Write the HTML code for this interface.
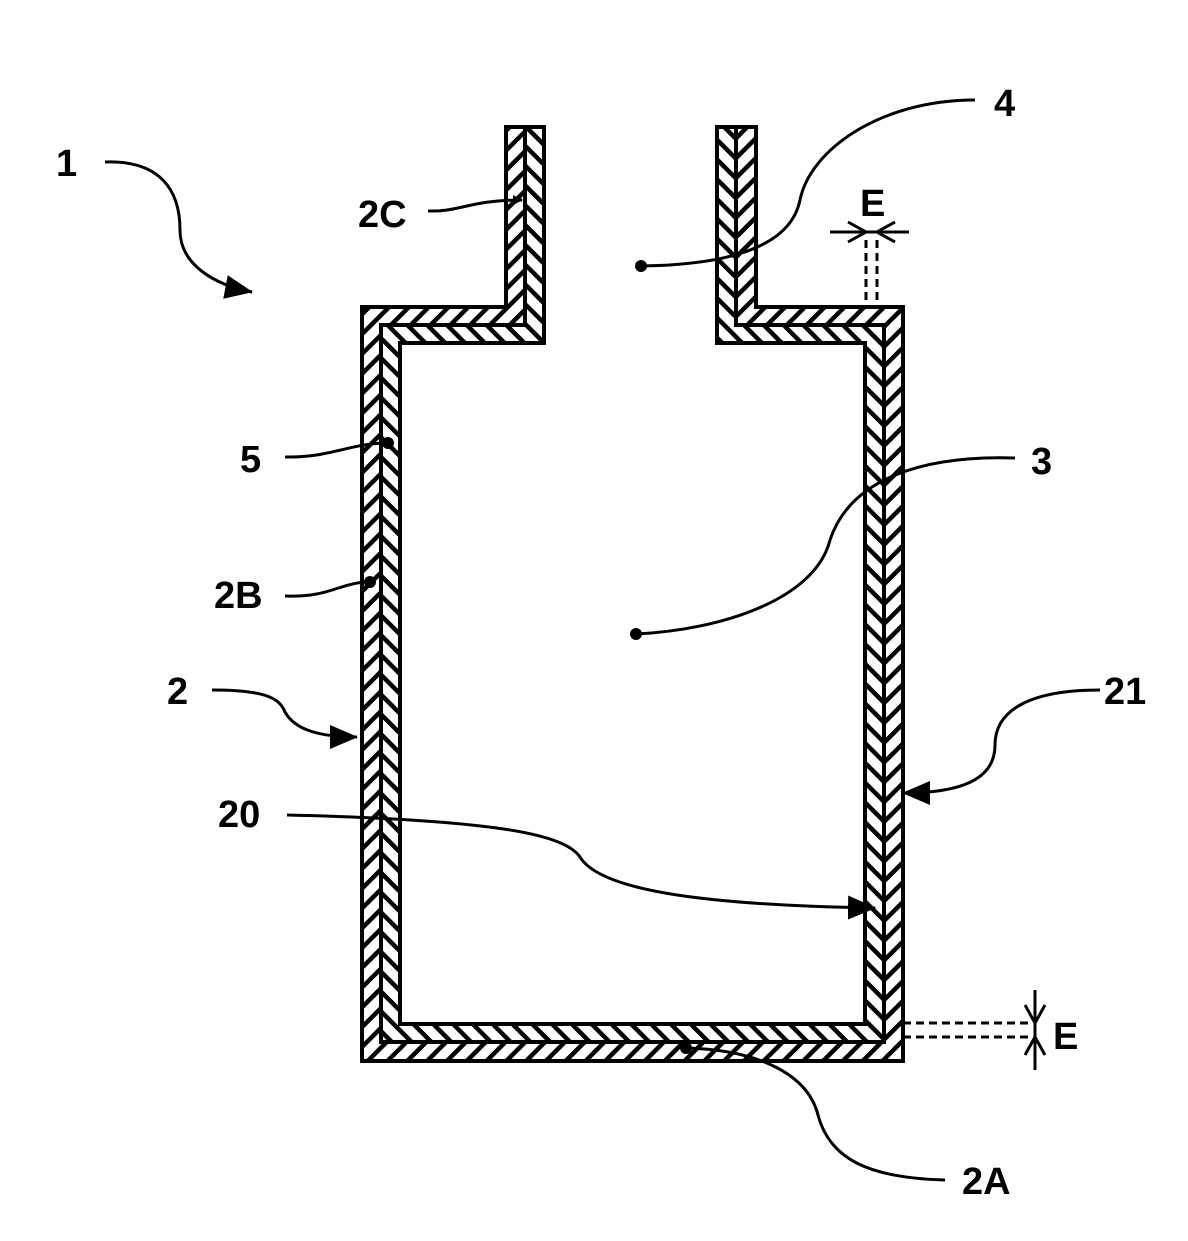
<!DOCTYPE html>
<html><head><meta charset="utf-8"><style>
html,body{margin:0;padding:0;background:#fff}
svg{display:block}
text{font-family:"Liberation Sans",sans-serif;font-weight:900;font-size:38px;fill:#000}
</style></head><body>
<svg width="1188" height="1241" viewBox="0 0 1188 1241" xmlns="http://www.w3.org/2000/svg">
<defs>
<pattern id="pa" patternUnits="userSpaceOnUse" width="14" height="14" patternTransform="rotate(45)">
<rect width="14" height="14" fill="#fff"/><rect x="0" y="0" width="4.5" height="14" fill="#000"/>
</pattern>
<pattern id="pb" patternUnits="userSpaceOnUse" width="14" height="14" patternTransform="rotate(-45)">
<rect width="14" height="14" fill="#fff"/><rect x="0" y="0" width="4.5" height="14" fill="#000"/>
</pattern>
<marker id="ar" markerWidth="10" markerHeight="10" refX="9" refY="5" orient="auto" markerUnits="userSpaceOnUse" viewBox="0 0 10 10">
<path d="M0,0 L10,5 L0,10 Z" fill="#000"/>
</marker>
<marker id="arL" markerWidth="28" markerHeight="24" refX="27" refY="12" orient="auto" markerUnits="userSpaceOnUse" viewBox="0 0 28 24">
<path d="M0,0 L28,12 L0,24 Z" fill="#000"/>
</marker>
</defs>
<g stroke="#000" stroke-width="4" stroke-linejoin="miter">
<path fill="url(#pa)" d="M362,307 H506 V127 H525 V325 H381 V1042 H884 V325 H736 V127 H756 V307 H903 V1061 H362 Z"/>
<path fill="url(#pb)" d="M525,127 H544 V343 H400 V1024 H865 V343 H717 V127 H736 V325 H884 V1042 H381 V325 H525 Z"/>
</g>
<g fill="none" stroke="#000" stroke-width="3">
<path d="M105,162 C160,160 180,190 180,230 C180,265 215,285 252,292" marker-end="url(#arL)"/>
<path d="M428,211 C460,212 470,200 522,200" marker-end="url(#ar)"/>
<path d="M975,100 C880,100 810,150 800,200 C790,250 720,265 641,266"/>
<path d="M285,457 C330,458 350,443 388,443"/>
<path d="M1015,458 C920,455 850,480 830,540 C815,600 720,630 636,634"/>
<path d="M285,596 C330,598 340,582 370,582"/>
<path d="M212,690 C270,690 280,700 285,712 C295,730 320,737 357,737" marker-end="url(#arL)"/>
<path d="M1100,690 C1030,690 995,710 995,745 C995,780 960,793 903,793" marker-end="url(#arL)"/>
<path d="M287,815 C500,820 565,835 580,857 C600,890 700,905 875,908" marker-end="url(#arL)"/>
<path d="M945,1180 C870,1178 830,1160 818,1115 C808,1075 760,1050 686,1048"/>
</g>
<g fill="#000">
<circle cx="641" cy="266" r="6"/><circle cx="388" cy="443" r="6"/><circle cx="636" cy="634" r="6"/><circle cx="370" cy="582" r="6"/><circle cx="686" cy="1048" r="6"/>
</g>
<g stroke="#000" stroke-width="3" fill="none">
<path d="M866,240 V307 M877,240 V307" stroke-dasharray="8,5"/>
<path d="M830,232 H909"/>
<path d="M848,222 L866,232 L848,242 M895,222 L877,232 L895,242"/>
<path d="M903,1023 H1033 M903,1037 H1033" stroke-dasharray="8,5"/>
<path d="M1035,990 V1070"/>
<path d="M1025,1005 L1035,1023 L1045,1005 M1025,1055 L1035,1037 L1045,1055"/>
</g>
<text x="56" y="176">1</text>
<text x="358" y="227">2C</text>
<text x="994" y="116">4</text>
<text x="860" y="216">E</text>
<text x="240" y="472">5</text>
<text x="1031" y="474">3</text>
<text x="214" y="608">2B</text>
<text x="167" y="704">2</text>
<text x="1104" y="704">21</text>
<text x="218" y="827">20</text>
<text x="1053" y="1049">E</text>
<text x="962" y="1194">2A</text>
</svg>
</body></html>
